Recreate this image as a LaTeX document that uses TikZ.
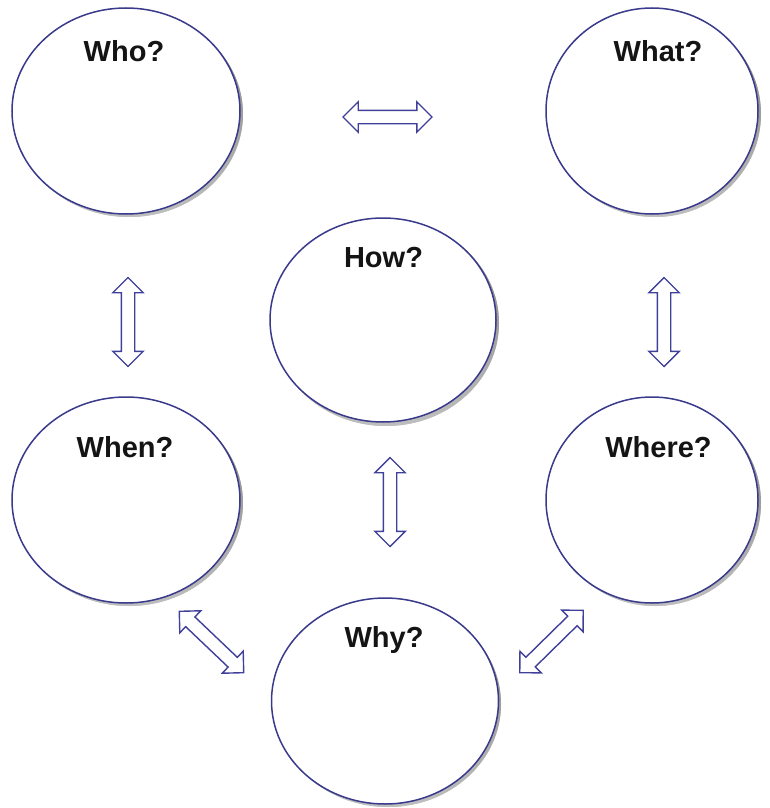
\documentclass[tikz,border=0pt]{standalone}
\usepackage{fontspec}
\setmainfont{Liberation Sans}
\usetikzlibrary{shapes.geometric,shapes.arrows}
\definecolor{edge}{HTML}{3A3A8C}
\definecolor{arrowc}{HTML}{40409A}
\definecolor{shade}{HTML}{DCDCF2}
\tikzset{
  bubble/.style={ellipse, draw=edge, line width=1.5pt, fill=white, inner sep=0pt},
  lbl/.style={anchor=base, font=\fontsize{29}{31}\selectfont\bfseries, text=black!92, inner sep=0pt},
  dbl/.style={double arrow, draw=arrowc, line width=1.4pt, fill=white, inner xsep=0pt, inner ysep=6pt,
    minimum height=89pt, double arrow head extend=8.5pt, double arrow tip angle=90},
}
\begin{document}
\begin{tikzpicture}[x=1pt,y=-1pt]
\useasboundingbox (0,0) rectangle (770,808);
% shadows
\foreach \cx/\cy/\rx in {126/111/114, 652/111/106, 383/320/113, 126/500/114, 652/500/106, 385/701/113}
  \fill[shade, opacity=0.5] (\cx+3,\cy+3) ellipse [x radius=\rx, y radius=103];
\node[bubble, minimum width=228pt, minimum height=206pt] (who) at (126,111) {};
\node[bubble, minimum width=212pt, minimum height=206pt] (what) at (652,111) {};
\node[bubble, minimum width=226pt, minimum height=204pt] (how) at (383,320) {};
\node[bubble, minimum width=228pt, minimum height=206pt] (when) at (126,500) {};
\node[bubble, minimum width=212pt, minimum height=206pt] (where) at (652,500) {};
\node[bubble, minimum width=227pt, minimum height=206pt] (why) at (385,701) {};
\node[lbl] (whoL) at (124,62) {Who?};
\node[lbl] (whatL) at (658,62) {What?};
\node[lbl] (howL) at (383.5,267) {How?};
\node[lbl] (whenL) at (125,457) {When?};
\node[lbl] (whereL) at (658.5,457) {Where?};
\node[lbl] (whyL) at (384,647) {Why?};
% double arrows
\node[dbl] (a1) at (387.5,117) {};
\node[dbl, rotate=90] (a2) at (128,322) {};
\node[dbl, rotate=90] (a3) at (664,322) {};
\node[dbl, rotate=90] (a4) at (390,502) {};
\node[dbl, rotate=-43.6] (a5) at (211.5,642) {};
\node[dbl, rotate=44.5] (a6) at (551.5,641.5) {};
\end{tikzpicture}
\end{document}
